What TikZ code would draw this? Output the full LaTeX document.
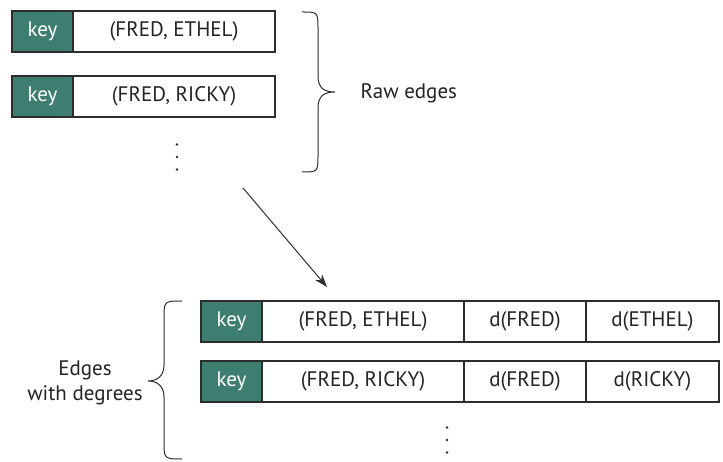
\documentclass[tikz,border=0pt]{standalone}
\usepackage{fontspec}
\setmainfont{PT Sans}
\usetikzlibrary{positioning, arrows.meta}
\definecolor{keygreen}{RGB}{62, 126, 112}
\definecolor{boxline}{RGB}{45, 45, 45}
\definecolor{darktext}{RGB}{35, 35, 35}

\begin{document}
\begin{tikzpicture}[x=1pt, y=-1pt,
    field/.style={draw=boxline, line width=1.2pt, minimum height=41pt, inner sep=0pt,
                  outer sep=0pt, text=darktext, font=\fontsize{21}{25}\selectfont},
    keyfield/.style={field, fill=keygreen, text=white, minimum width=61pt},
    pairfield/.style={field, minimum width=202pt},
    bracket/.style={draw=boxline, line width=1pt},
    caption/.style={text=darktext, font=\fontsize{21}{25}\selectfont}]
  \useasboundingbox (0,0) rectangle (723,462);

  % raw edges
  \node[keyfield, anchor=north west] (rawkeyA) at (12,11) {key};
  \node[pairfield, right=0pt of rawkeyA] (rawpairA) {(FRED, ETHEL)};
  \node[keyfield, anchor=north west] (rawkeyB) at (12,76) {key};
  \node[pairfield, right=0pt of rawkeyB] (rawpairB) {(FRED, RICKY)};
  \coordinate (rawdots) at (177,157);
  \foreach \dy in {-12.5, 0, 12.5}
    \fill[boxline] (rawdots) ++(0,\dy) circle (1.3pt);

  \coordinate (rawtop) at (302,12);
  \coordinate (rawtip) at (335,92);
  \coordinate (rawbot) at (302,172);
  \draw[bracket] (rawtop) .. controls (318,12) .. (318,30) -- (318,76)
    .. controls (318,88) and (324,92) .. (rawtip)
    .. controls (324,92) and (318,96) .. (318,108) -- (318,154)
    .. controls (318,172) .. (rawbot);
  \node[caption, anchor=west] (rawlabel) at (357,93) {Raw edges};

  % map step
  \coordinate (arrowtail) at (243,188);
  \coordinate (arrowhead) at (327,287);
  \draw[-{Stealth[length=13pt, width=9pt]}, line width=1pt, draw=boxline] (arrowtail) -- (arrowhead);

  % edges with degrees
  \node[keyfield, anchor=north west] (degkeyA) at (201,301) {key};
  \node[pairfield, right=0pt of degkeyA] (degpairA) {(FRED, ETHEL)};
  \node[field, minimum width=122pt, right=0pt of degpairA] (degfromA) {d(FRED)};
  \node[field, minimum width=133pt, right=0pt of degfromA] (degtoA) {d(ETHEL)};
  \node[keyfield, anchor=north west] (degkeyB) at (201,361) {key};
  \node[pairfield, right=0pt of degkeyB] (degpairB) {(FRED, RICKY)};
  \node[field, minimum width=122pt, right=0pt of degpairB] (degfromB) {d(FRED)};
  \node[field, minimum width=133pt, right=0pt of degfromB] (degtoB) {d(RICKY)};
  \coordinate (degdots) at (447,440);
  \foreach \dy in {-12.5, 0, 12.5}
    \fill[boxline] (degdots) ++(0,\dy) circle (1.3pt);

  \coordinate (degtop) at (182,301);
  \coordinate (degtip) at (148,381);
  \coordinate (degbot) at (182,459);
  \draw[bracket] (degtop) .. controls (164,301) .. (164,319) -- (164,365)
    .. controls (164,377) and (156,381) .. (degtip)
    .. controls (156,381) and (164,385) .. (164,397) -- (164,441)
    .. controls (164,459) .. (degbot);
  \node[caption, align=center] (deglabel) at (85,383) {Edges\\with degrees};
\end{tikzpicture}
\end{document}
